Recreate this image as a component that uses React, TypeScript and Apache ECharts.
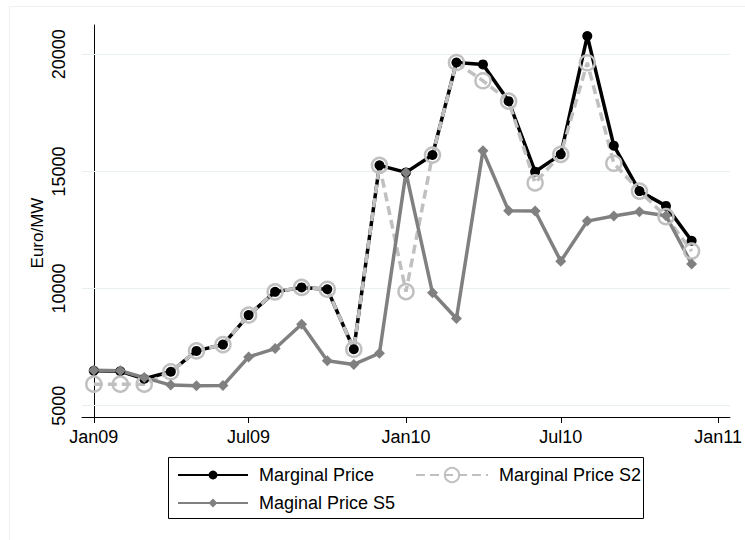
import React, { useEffect, useRef } from 'react';
import * as echarts from 'echarts';

// ---- data ----
const months = [
  '2009-01', '2009-02', '2009-03', '2009-04', '2009-05', '2009-06',
  '2009-07', '2009-08', '2009-09', '2009-10', '2009-11', '2009-12',
  '2010-01', '2010-02', '2010-03', '2010-04', '2010-05', '2010-06',
  '2010-07', '2010-08', '2010-09', '2010-10', '2010-11', '2010-12',
];
const marginalPrice = [
  6490, 6470, 6150, 6450, 7340, 7610, 8870, 9860, 10050, 9970, 7410, 15260,
  14960, 15700, 19650, 19570, 18000, 14990, 15730, 20780, 16100, 14160, 13530, 12040,
];
const marginalPriceS2 = [
  5920, 5920, 5920, 6450, 7340, 7610, 8870, 9860, 10050, 9970, 7410, 15260,
  9870, 15700, 19650, 18870, 18000, 14510, 15730, 19640, 15350, 14160, 13070, 11600,
];
const maginalPriceS5 = [
  6510, 6490, 6200, 5880, 5850, 5860, 7080, 7440, 8480, 6920, 6760, 7240,
  14950, 9820, 8720, 15880, 13320, 13310, 11170, 12880, 13100, 13280, 13110, 11050,
];
const seriesNames = ['Marginal Price', 'Marginal Price S2', 'Maginal Price S5'];
const xTickMonths = ['2009-01', '2009-07', '2010-01', '2010-07', '2011-01'];
const yTickValues = [5000, 10000, 15000, 20000];
const yAxisTitle = 'Euro/MW';
const monthAbbr = ['Jan', 'Feb', 'Mar', 'Apr', 'May', 'Jun', 'Jul', 'Aug', 'Sep', 'Oct', 'Nov', 'Dec'];

// ---- layout / style ----
const FONT = '"Liberation Sans", Arial, Helvetica, sans-serif';
const DAY = 24 * 3600 * 1000;
const ORIGIN = Date.UTC(2009, 0, 1);
const xPadDays = 13.8;

// month string 'YYYY-MM' -> days since 1 Jan 2009
function dayOf(m: string): number {
  const [y, mo] = m.split('-').map(Number);
  return Math.round((Date.UTC(y, mo - 1, 1) - ORIGIN) / DAY);
}
function fmtDay(v: number): string {
  const d = new Date(ORIGIN + Math.round(v) * DAY);
  const yy = String(d.getUTCFullYear() % 100).padStart(2, '0');
  return monthAbbr[d.getUTCMonth()] + yy;
}

const xTickDays = xTickMonths.map(dayOf);
const xMin = xTickDays[0] - xPadDays;
const xMax = xTickDays[xTickDays.length - 1] + xPadDays;
const yMin = 4518;
const yMax = 21251;

const BLACK = '#000000';
const LIGHT = '#c0c0c0';
const MID = '#808080';
const GRID = '#e8f0f2';

export default function App() {
  const ref = useRef<HTMLDivElement>(null);

  useEffect(() => {
    if (!ref.current) return;
    const chart = echarts.init(ref.current, null, { renderer: 'svg' });
    const pair = (vals: number[]) => months.map((m, i) => [dayOf(m), vals[i]]);

    const legendBase = {
      orient: 'horizontal',
      padding: 0,
      itemWidth: 70,
      selectedMode: false,
      textStyle: { fontSize: 18, fontFamily: FONT, color: '#000', padding: [0, 0, 0, 6] },
    };

    const option: any = {
      animation: false,
      backgroundColor: '#ffffff',
      textStyle: { fontFamily: FONT },
      grid: { left: 82, right: 15, top: 25, bottom: 123, containLabel: false },
      xAxis: {
        type: 'value',
        min: xMin,
        max: xMax,
        axisLine: { show: true, onZero: false, lineStyle: { color: '#000', width: 1 } },
        axisTick: { show: true, customValues: xTickDays, length: 6, lineStyle: { color: '#000', width: 1 } },
        axisLabel: {
          customValues: xTickDays,
          formatter: (v: number) => fmtDay(v),
          color: '#000',
          fontSize: 18,
          fontFamily: FONT,
          margin: 11,
        },
        splitLine: { show: false },
      },
      yAxis: {
        type: 'value',
        min: yMin,
        max: yMax,
        axisLine: { show: true, lineStyle: { color: '#000', width: 1 } },
        axisTick: { show: true, customValues: yTickValues, length: 7, lineStyle: { color: '#000', width: 1 } },
        axisLabel: {
          customValues: yTickValues,
          formatter: (v: number) => String(v),
          rotate: 90,
          color: '#000',
          fontSize: 18,
          fontFamily: FONT,
          margin: 14,
        },
        splitLine: { show: false },
      },
      legend: [
        { ...legendBase, data: [seriesNames[0]], left: 177, top: 466, itemHeight: 11 },
        { ...legendBase, data: [seriesNames[1]], left: 415, top: 466, itemHeight: 18, itemWidth: 72 },
        { ...legendBase, data: [seriesNames[2]], left: 177, top: 494, itemHeight: 11 },
      ],
      graphic: [
        {
          type: 'rect',
          silent: true,
          shape: { x: 9.5, y: 6.5, width: 900, height: 900 },
          style: { fill: 'none', stroke: '#edf1f3', lineWidth: 1 },
          z: -10,
        },
        {
          type: 'rect',
          silent: true,
          shape: { x: 168.5, y: 457.5, width: 475, height: 61 },
          style: { fill: 'none', stroke: '#000', lineWidth: 1 },
        },
        {
          type: 'text',
          silent: true,
          x: 37,
          y: 233,
          rotation: Math.PI / 2,
          style: {
            text: yAxisTitle,
            fontSize: 17,
            fontFamily: FONT,
            fill: '#000',
            align: 'center',
            verticalAlign: 'middle',
          },
        },
      ],
      series: [
        {
          name: seriesNames[0],
          type: 'line',
          data: pair(marginalPrice),
          symbol: 'circle',
          symbolSize: 10,
          itemStyle: { color: BLACK },
          lineStyle: { color: BLACK, width: 3.5 },
          markLine: {
            silent: true,
            z: 1,
            symbol: 'none',
            label: { show: false },
            lineStyle: { color: GRID, width: 1, type: 'solid' },
            data: yTickValues.map((v) => ({ yAxis: v })),
          },
        },
        {
          name: seriesNames[1],
          type: 'line',
          data: pair(marginalPriceS2),
          symbol: 'circle',
          symbolSize: 15,
          itemStyle: { color: 'rgba(255,255,255,0)', borderColor: LIGHT, borderWidth: 2.5 },
          lineStyle: { color: LIGHT, width: 3.5, type: [9, 5] },
        },
        {
          name: seriesNames[2],
          type: 'line',
          data: pair(maginalPriceS5),
          symbol: 'diamond',
          symbolSize: 11,
          itemStyle: { color: MID },
          lineStyle: { color: MID, width: 3.5 },
        },
      ],
    };

    chart.setOption(option);
    return () => chart.dispose();
  }, []);

  return (
    <div
      ref={ref}
      style={{ position: 'fixed', left: 0, top: 0, width: 745, height: 540, background: '#fff' }}
    />
  );
}
